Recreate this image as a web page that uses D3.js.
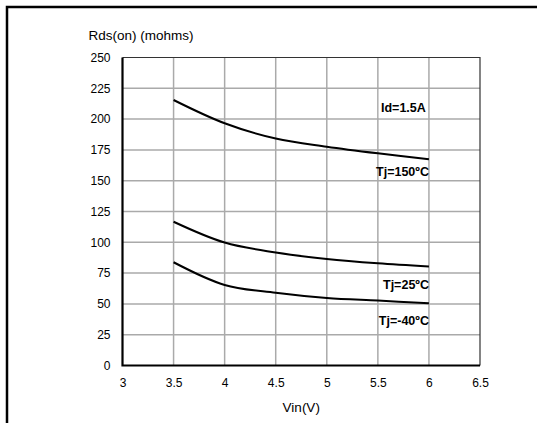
<!DOCTYPE html>
<html><head><meta charset="utf-8">
<script src="https://cdn.jsdelivr.net/npm/d3@7"></script>
<style>body{margin:0;background:#fff;} svg{display:block;font-family:"Liberation Sans",Arial,sans-serif;}</style>
</head><body>
<svg id="c" width="537" height="423"></svg>
<script>
const vin = [3.5, 4, 4.5, 5, 5.5, 6];
const tj150 = [215.5, 196.6, 184.2, 177.6, 172.2, 167.4];
const tj25 = [116.7, 99.8, 91.7, 86.4, 82.9, 80.4];
const tjm40 = [83.8, 65.4, 59.0, 54.8, 52.7, 50.6];
const seriesNames = ["Tj=150ºC", "Tj=25ºC", "Tj=-40ºC"];
const xTicks = [3, 3.5, 4, 4.5, 5, 5.5, 6, 6.5];
const yTicks = [0, 25, 50, 75, 100, 125, 150, 175, 200, 225, 250];
const noteText = "Id=1.5A";

const svg = d3.select("#c");
const L = 122.5, R = 480, T = 57.5, B = 365.5;
const x = d3.scaleLinear().domain([3, 6.5]).range([L, R]);
const y = d3.scaleLinear().domain([0, 250]).range([B, T]);

// outer frame
svg.append("path").attr("d", `M7,430 V7 H545`).attr("fill","none").attr("stroke","#000").attr("stroke-width",2.5);

// grid
const g = svg.append("g");
g.selectAll(".vg").data(xTicks.slice(1, -1)).enter().append("line")
  .attr("x1", d => x(d)).attr("x2", d => x(d)).attr("y1", T).attr("y2", B)
  .attr("stroke", "#aaaaaa").attr("stroke-width", 1.5);
g.selectAll(".hg").data(yTicks.slice(1, -1)).enter().append("line")
  .attr("x1", L).attr("x2", R).attr("y1", d => y(d)).attr("y2", d => y(d))
  .attr("stroke", "#aaaaaa").attr("stroke-width", 1.5);

// plot border: top & right
svg.append("path").attr("d", `M${L},${T} H${R} V${B}`).attr("fill","none").attr("stroke","#333").attr("stroke-width",1.2);

// axes
const xAxis = d3.axisBottom(x).tickValues(xTicks).tickSize(0).tickPadding(13).tickFormat(d3.format("~g"));
const yAxis = d3.axisLeft(y).tickValues(yTicks).tickSize(0).tickPadding(12);
const gx = svg.append("g").attr("transform", `translate(0,${B})`).call(xAxis);
const gy = svg.append("g").attr("transform", `translate(${L},0)`).call(yAxis);
[gx, gy].forEach(a => {
  a.select(".domain").remove();
  a.selectAll("text").attr("font-size", 12).attr("fill", "#000").attr("font-family", "Liberation Sans, Arial, sans-serif");
});
svg.append("path").attr("d", `M${L},${T} V${B} H${R}`).attr("fill","none").attr("stroke","#000").attr("stroke-width",2.2);

// lines
const line = d3.line().x((d, i) => x(vin[i])).y(d => y(d)).curve(d3.curveCatmullRom.alpha(0.5));
[tj150, tj25, tjm40].forEach(s => {
  svg.append("path").attr("d", line(s)).attr("fill", "none").attr("stroke", "#000").attr("stroke-width", 2);
});

// labels
function label(txt, xv, yv, anchor) {
  const t = svg.append("text").attr("x", x(xv)).attr("y", yv).attr("text-anchor", anchor)
    .attr("font-size", 12.5).attr("font-weight", "bold").attr("fill", "#000").text(txt);
  return t;
}
svg.append("rect").attr("x", x(5.5) + 1).attr("y", y(225) + 1).attr("width", x(6) - x(5.5) - 2).attr("height", y(200) - y(225) - 2).attr("fill", "#fff");
label(noteText, 5.75, 111.5, "middle");
label(seriesNames[0], 6, 175.5, "end");
label(seriesNames[1], 6, 288.5, "end");
label(seriesNames[2], 6, 325, "end");

// titles
svg.append("text").attr("x", 88.5).attr("y", 40).attr("font-size", 13.5).attr("fill", "#000").text("Rds(on) (mohms)");
svg.append("text").attr("x", (L + R) / 2).attr("y", 412).attr("text-anchor", "middle").attr("font-size", 13.5).attr("fill", "#000").text("Vin(V)");
</script>
</body></html>
